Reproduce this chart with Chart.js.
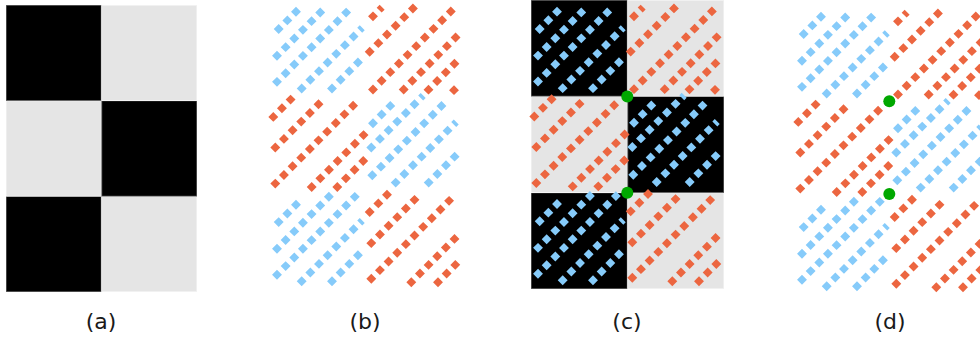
<!DOCTYPE html>
<html>
<head>
<meta charset="utf-8">
<script src="https://cdn.jsdelivr.net/npm/chart.js@4.4.0/dist/chart.umd.min.js"></script>
<style>
  html, body { margin: 0; padding: 0; background: #fff; width: 980px; height: 345px; overflow: hidden; }
  canvas { position: absolute; }
  .label { position: absolute; width: 60px; margin-left: -30px; text-align: center;
           font-family: 'DejaVu Sans', sans-serif; font-size: 22px; line-height: 26px; color: #1a1a1a; }
</style>
</head>
<body>
<canvas id="panelA"></canvas>
<canvas id="panelB"></canvas>
<canvas id="panelC"></canvas>
<canvas id="panelD"></canvas>
<div class="label" style="left:101px; top:309px">(a)</div>
<div class="label" style="left:365px; top:309px">(b)</div>
<div class="label" style="left:627px; top:309px">(c)</div>
<div class="label" style="left:890px; top:309px">(d)</div>
<script>
// grid of the checkerboard: 2 columns, 3 rows, 1 = dark cell
const COLS = ['left', 'right'];
const ROW_SPANS = [[0, 96.5], [96.5, 193], [193, 289.5]];
const DARK = [[1, 0], [0, 1], [1, 0]];

// dashed lines of each cell: [x, y of first (lower-left) dash, number of dashes]
const LINES_R0C0 = [[8.7, 29, 3], [7, 55.7, 6], [7, 81.7, 9], [31.7, 88.3, 7.5], [62, 88.3, 4]];
const LINES_R0C1 = [[103, 16.3, 1.6], [99.7, 51.7, 6], [103, 89.3, 10], [133.7, 89.3, 7], [158.5, 89.5, 4], [184, 90, 1]];
const LINES_R1C0 = [[3.3, 116.7, 3], [5.3, 147.3, 6], [5.3, 183.3, 10], [41.7, 186.7, 7], [67.3, 186.7, 4]];
const LINES_R1C1 = [[103, 123, 3], [101.3, 147.3, 6.5], [102.3, 175, 9], [125.7, 182.3, 7.5], [158.7, 182.3, 4]];
const LINES_R2C0 = [[8.7, 221.7, 3], [7, 248.3, 7], [7, 274.3, 10], [31.7, 280.7, 7.5], [62, 280.7, 4]];
const LINES_R2C1 = [[99.7, 211.7, 3], [101.3, 242.7, 6], [101.3, 278.3, 10], [141.3, 281.7, 6], [168, 281.7, 3]];
const CELL_LINES = [[LINES_R0C0, LINES_R0C1], [LINES_R1C0, LINES_R1C1], [LINES_R2C0, LINES_R2C1]];

// green corner points
const DOTS_C = [[96.3, 96.7], [96.3, 193]];
const DOTS_D = [[94.3, 96], [94.3, 188.7]];

const X_MAX = 193, Y_MAX = 289.5;
const STEP = 8.65;                 // dash spacing along each axis
const DASH = 7;
const PITCH = STEP * Math.SQRT2;
const GAP = PITCH - DASH;
const PAD = 8;

const BLUE = '#86cbfa', ORANGE = '#ec6640', GREEN = '#00a800';

function segment(x0, y0, n) {
  const k = Math.floor(n), f = n - k;
  const len = (k - 1) * PITCH + DASH + (f > 0 ? GAP + f * DASH : 0);
  const h = DASH / 2 / Math.SQRT2;
  const sx = x0 - h, sy = y0 + h, d = len / Math.SQRT2;
  return [{ x: sx, y: sy }, { x: sx + d, y: sy - d }];
}

function makePanel(id, left, top, w, h, opts) {
  const cv = document.getElementById(id);
  cv.width = w + 2 * PAD;
  cv.height = h + 2 * PAD;
  cv.style.left = (left - PAD) + 'px';
  cv.style.top = (top - PAD) + 'px';

  const datasets = [];
  if (opts.cells) {
    ROW_SPANS.forEach((span, i) => {
      datasets.push({
        type: 'bar', xAxisID: 'xc', yAxisID: 'y',
        data: COLS.map(() => span),
        backgroundColor: DARK[i].map(v => v ? '#000000' : '#e5e5e5'),
        borderColor: DARK[i].map(v => v ? '#666666' : '#f4f4f4'),
        borderWidth: 1, borderSkipped: false,
        barPercentage: 1, categoryPercentage: 1, grouped: false, order: 3
      });
    });
  }
  if (opts.lines) {
    CELL_LINES.forEach((row, i) => row.forEach((lines, j) => {
      lines.forEach(([x, y, n]) => {
        datasets.push({
          type: 'scatter', data: segment(x, y, n), showLine: true,
          borderColor: DARK[i][j] ? BLUE : ORANGE, borderWidth: DASH,
          borderDash: [DASH, GAP], borderCapStyle: 'butt',
          pointRadius: 0, fill: false, clip: false, order: 2
        });
      });
    }));
  }
  if (opts.dots) {
    datasets.push({
      type: 'scatter', data: opts.dots.map(([x, y]) => ({ x, y })),
      pointRadius: 6, pointBackgroundColor: GREEN, pointBorderWidth: 0,
      clip: false, order: 1
    });
  }

  new Chart(cv, {
    type: 'scatter',
    data: { datasets },
    options: {
      responsive: false, animation: false, events: [],
      devicePixelRatio: 1,
      layout: { padding: PAD },
      plugins: { legend: { display: false }, tooltip: { enabled: false } },
      scales: {
        x: { type: 'linear', min: 0, max: X_MAX, display: false },
        xc: { type: 'category', labels: COLS, offset: true, display: false },
        y: { type: 'linear', min: 0, max: Y_MAX, reverse: true, display: false }
      }
    }
  });
}

makePanel('panelA', 6, 5, 191, 287, { cells: true });
makePanel('panelB', 270, 0, 193, 290, { lines: true });
makePanel('panelC', 531, 0, 193, 289, { cells: true, lines: true, dots: DOTS_C });
makePanel('panelD', 795, 5, 193, 290, { lines: true, dots: DOTS_D });
</script>
</body>
</html>
